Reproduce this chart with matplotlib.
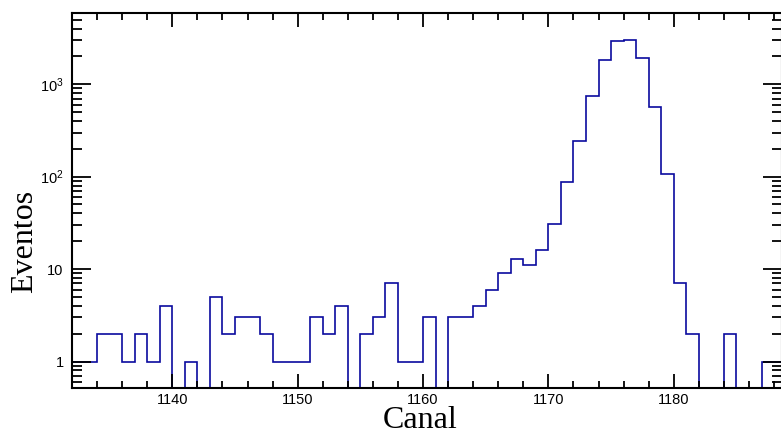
import numpy as np
import matplotlib
matplotlib.use("Agg")
import matplotlib.pyplot as plt
from matplotlib.ticker import MultipleLocator, FixedLocator, FixedFormatter, NullFormatter

# Data: histogram counts per channel (bin edges at integers)
first_channel = 1132
counts = [1, 1, 2, 2, 1, 2, 1, 4, 0, 1,      # 1132-1141
          0, 5, 2, 3, 3, 2, 1, 1, 1, 3,      # 1142-1151
          2, 4, 0, 2, 3, 7, 1, 1, 3, 0,      # 1152-1161
          3, 3, 4, 6, 9, 13, 11, 16, 31, 88, # 1162-1171
          245, 753, 1846, 2943, 3040, 1927, 572, 108, 7, 2,  # 1172-1181
          0, 0, 2, 0, 0, 1, 1]               # 1182-1188
x_ticks = [1140, 1150, 1160, 1170, 1180]
y_ticks = [1, 10, 100, 1000]
y_ticklabels = ["1", "10", r"$\mathregular{10^{2}}$", r"$\mathregular{10^{3}}$"]
x_label = "Canal"
y_label = "Eventos"

counts = np.array(counts, dtype=float)
edges = np.arange(first_channel, first_channel + len(counts) + 1)
plot_vals = np.where(counts > 0, counts, 1e-3)

fig = plt.figure(figsize=(7.81, 4.34), dpi=100)
ax = fig.add_axes([72/781, 1 - 388/434, (781.6 - 72)/781, (388 - 13)/434])

ax.stairs(plot_vals, edges, baseline=None, color="#0a0a9e", linewidth=1.2)

ax.set_yscale("log")
ax.set_xlim(1132, 1188.6)
ax.set_ylim(0.517, 5900)

ax.xaxis.set_major_locator(FixedLocator(x_ticks))
ax.xaxis.set_minor_locator(MultipleLocator(2))
ax.yaxis.set_major_locator(FixedLocator(y_ticks))
ax.yaxis.set_major_formatter(FixedFormatter(y_ticklabels))
ax.yaxis.set_minor_locator(matplotlib.ticker.LogLocator(base=10, subs=np.arange(2, 10), numticks=20))
ax.yaxis.set_minor_formatter(NullFormatter())

for s in ax.spines.values():
    s.set_linewidth(1.5)

ax.tick_params(axis="both", which="both", direction="in", top=True, right=True, width=1.3)
ax.tick_params(axis="x", which="major", length=10, pad=3.5)
ax.tick_params(axis="x", which="minor", length=5)
ax.tick_params(axis="y", which="major", length=14, pad=6)
ax.tick_params(axis="y", which="minor", length=7)

for lab in ax.get_xticklabels() + ax.get_yticklabels():
    lab.set_fontfamily("Liberation Sans")
    lab.set_fontsize(10.5)

fig.text(420/781, 1 - 428/434, x_label, family="Liberation Serif", fontsize=23,
         ha="center", va="baseline")
fig.text(25/781, 1 - 241/434, y_label, family="Liberation Serif", fontsize=23,
         ha="center", va="center", rotation=90)

fig.savefig("out.png", dpi=100)
